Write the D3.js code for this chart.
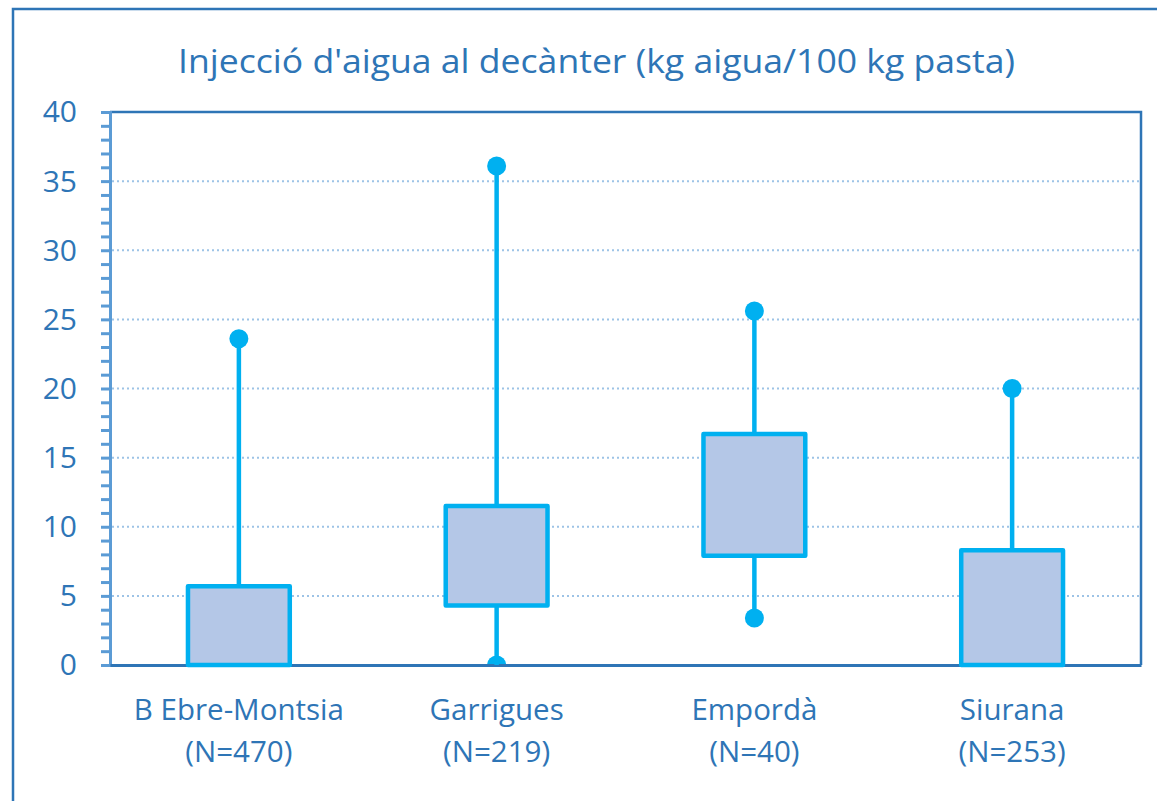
<!DOCTYPE html>
<html>
<head>
<meta charset="utf-8">
<script src="https://cdn.jsdelivr.net/npm/d3@7/dist/d3.min.js"></script>
<style>
html,body{margin:0;padding:0;background:#fff;}
svg{display:block;}
text{font-family:"Open Sans",sans-serif;fill:#2E75B6;}
</style>
</head>
<body>
<svg id="chart" width="1157" height="801"></svg>
<script>
const title = "Injecció d'aigua al decànter (kg aigua/100 kg pasta)";
const categories = ["B Ebre-Montsia", "Garrigues", "Empordà", "Siurana"];
const nLabels = ["(N=470)", "(N=219)", "(N=40)", "(N=253)"];
const minValues = [0, 0, 3.4, 0];
const q1Values = [0, 4.3, 7.9, 0];
const q3Values = [5.7, 11.5, 16.7, 8.3];
const maxValues = [23.6, 36.1, 25.6, 20.0];
const yTicks = [0, 5, 10, 15, 20, 25, 30, 35, 40];

const data = categories.map((c, i) => ({
  cat: c, n: nLabels[i], min: minValues[i], q1: q1Values[i], q3: q3Values[i], max: maxValues[i]
}));

const svg = d3.select("#chart");
const plot = {left: 110, right: 1141, top: 112, bottom: 665};

const x = d3.scaleBand().domain(categories).range([plot.left, plot.right]).padding(0);
const y = d3.scaleLinear().domain([0, 40]).range([plot.bottom, plot.top]);

// outer chart border (only left/top visible)
svg.append("path").attr("d", "M13,801 L13,9 L1157,9")
  .attr("fill", "none").attr("stroke", "#2E75B6").attr("stroke-width", 2.5);

// title
svg.append("text").attr("x", 596.5).attr("y", 73).attr("text-anchor", "middle")
  .attr("font-size", 33).attr("textLength", 837).attr("lengthAdjust", "spacingAndGlyphs")
  .attr("fill", "#2E75B6").text(title);

// gridlines
svg.append("g").selectAll("line").data(yTicks.filter(t => t > 0 && t < 40)).join("line")
  .attr("x1", plot.left + 2).attr("x2", plot.right - 2)
  .attr("y1", d => y(d)).attr("y2", d => y(d))
  .attr("stroke", "#9DC3E6").attr("stroke-width", 2).attr("stroke-dasharray", "2,3");

// plot border top/right
svg.append("path").attr("d", `M${plot.left},${plot.top} L${plot.right},${plot.top} L${plot.right},${plot.bottom}`)
  .attr("fill", "none").attr("stroke", "#2E75B6").attr("stroke-width", 2.5);

// y axis with minor ticks
const yAxisMinor = d3.axisLeft(y).tickValues(d3.range(0, 41, 1)).tickSize(9).tickFormat("");
const gyMinor = svg.append("g").attr("transform", `translate(${plot.left},0)`).call(yAxisMinor);
gyMinor.select(".domain").attr("stroke", "#5B9BD5").attr("stroke-width", 3);
gyMinor.selectAll(".tick line").attr("stroke", "#5B9BD5").attr("stroke-width", 3);

const yAxis = d3.axisLeft(y).tickValues(yTicks).tickSize(0).tickPadding(33);
const gy = svg.append("g").attr("transform", `translate(${plot.left},0)`).call(yAxis);
gy.select(".domain").remove();
gy.selectAll(".tick text").attr("font-size", 30).attr("fill", "#2E75B6")
  .attr("font-family", "'Open Sans',sans-serif").attr("dy", "0.33em");

// x axis line
const xAxis = d3.axisBottom(x).tickSize(0).tickFormat("");
const gx = svg.append("g").attr("transform", `translate(0,${plot.bottom})`).call(xAxis);
gx.select(".domain").attr("stroke", "#2E75B6").attr("stroke-width", 3);

// x labels
const labels = svg.append("g").selectAll("g").data(data).join("g")
  .attr("transform", d => `translate(${x(d.cat) + x.bandwidth() / 2},0)`);
labels.append("text").attr("y", 720).attr("text-anchor", "middle").attr("font-size", 29.5).text(d => d.cat);
labels.append("text").attr("y", 762).attr("text-anchor", "middle").attr("font-size", 29.5).text(d => d.n);

// clip for dots
svg.append("clipPath").attr("id", "plotclip").append("rect")
  .attr("x", plot.left).attr("y", 0).attr("width", plot.right - plot.left).attr("height", plot.bottom - 1);

const boxW = x.bandwidth() * 0.395;
const cx = d => x(d.cat) + x.bandwidth() / 2;
const cyan = "#00B0F0";

const marks = svg.append("g");
// whiskers
marks.selectAll("line.w").data(data).join("line").attr("class", "w")
  .attr("x1", cx).attr("x2", cx).attr("y1", d => y(d.min)).attr("y2", d => y(d.max))
  .attr("stroke", cyan).attr("stroke-width", 4.5);

// dots (lower dot only where min is below the box)
const dotG = marks.append("g").attr("clip-path", "url(#plotclip)");
dotG.selectAll("circle").data(data.flatMap(d => (d.min < d.q1 ? [d.max, d.min] : [d.max]).map(v => ({d, v})))).join("circle")
  .attr("cx", o => cx(o.d)).attr("cy", o => y(o.v)).attr("r", 9.5).attr("fill", cyan);

// boxes
marks.selectAll("rect.box").data(data).join("rect").attr("class", "box")
  .attr("x", d => cx(d) - boxW / 2).attr("width", boxW)
  .attr("y", d => y(d.q3)).attr("height", d => y(d.q1) - y(d.q3))
  .attr("fill", "#B4C7E7").attr("stroke", cyan).attr("stroke-width", 4.5).attr("stroke-linejoin", "round");
</script>
</body>
</html>
